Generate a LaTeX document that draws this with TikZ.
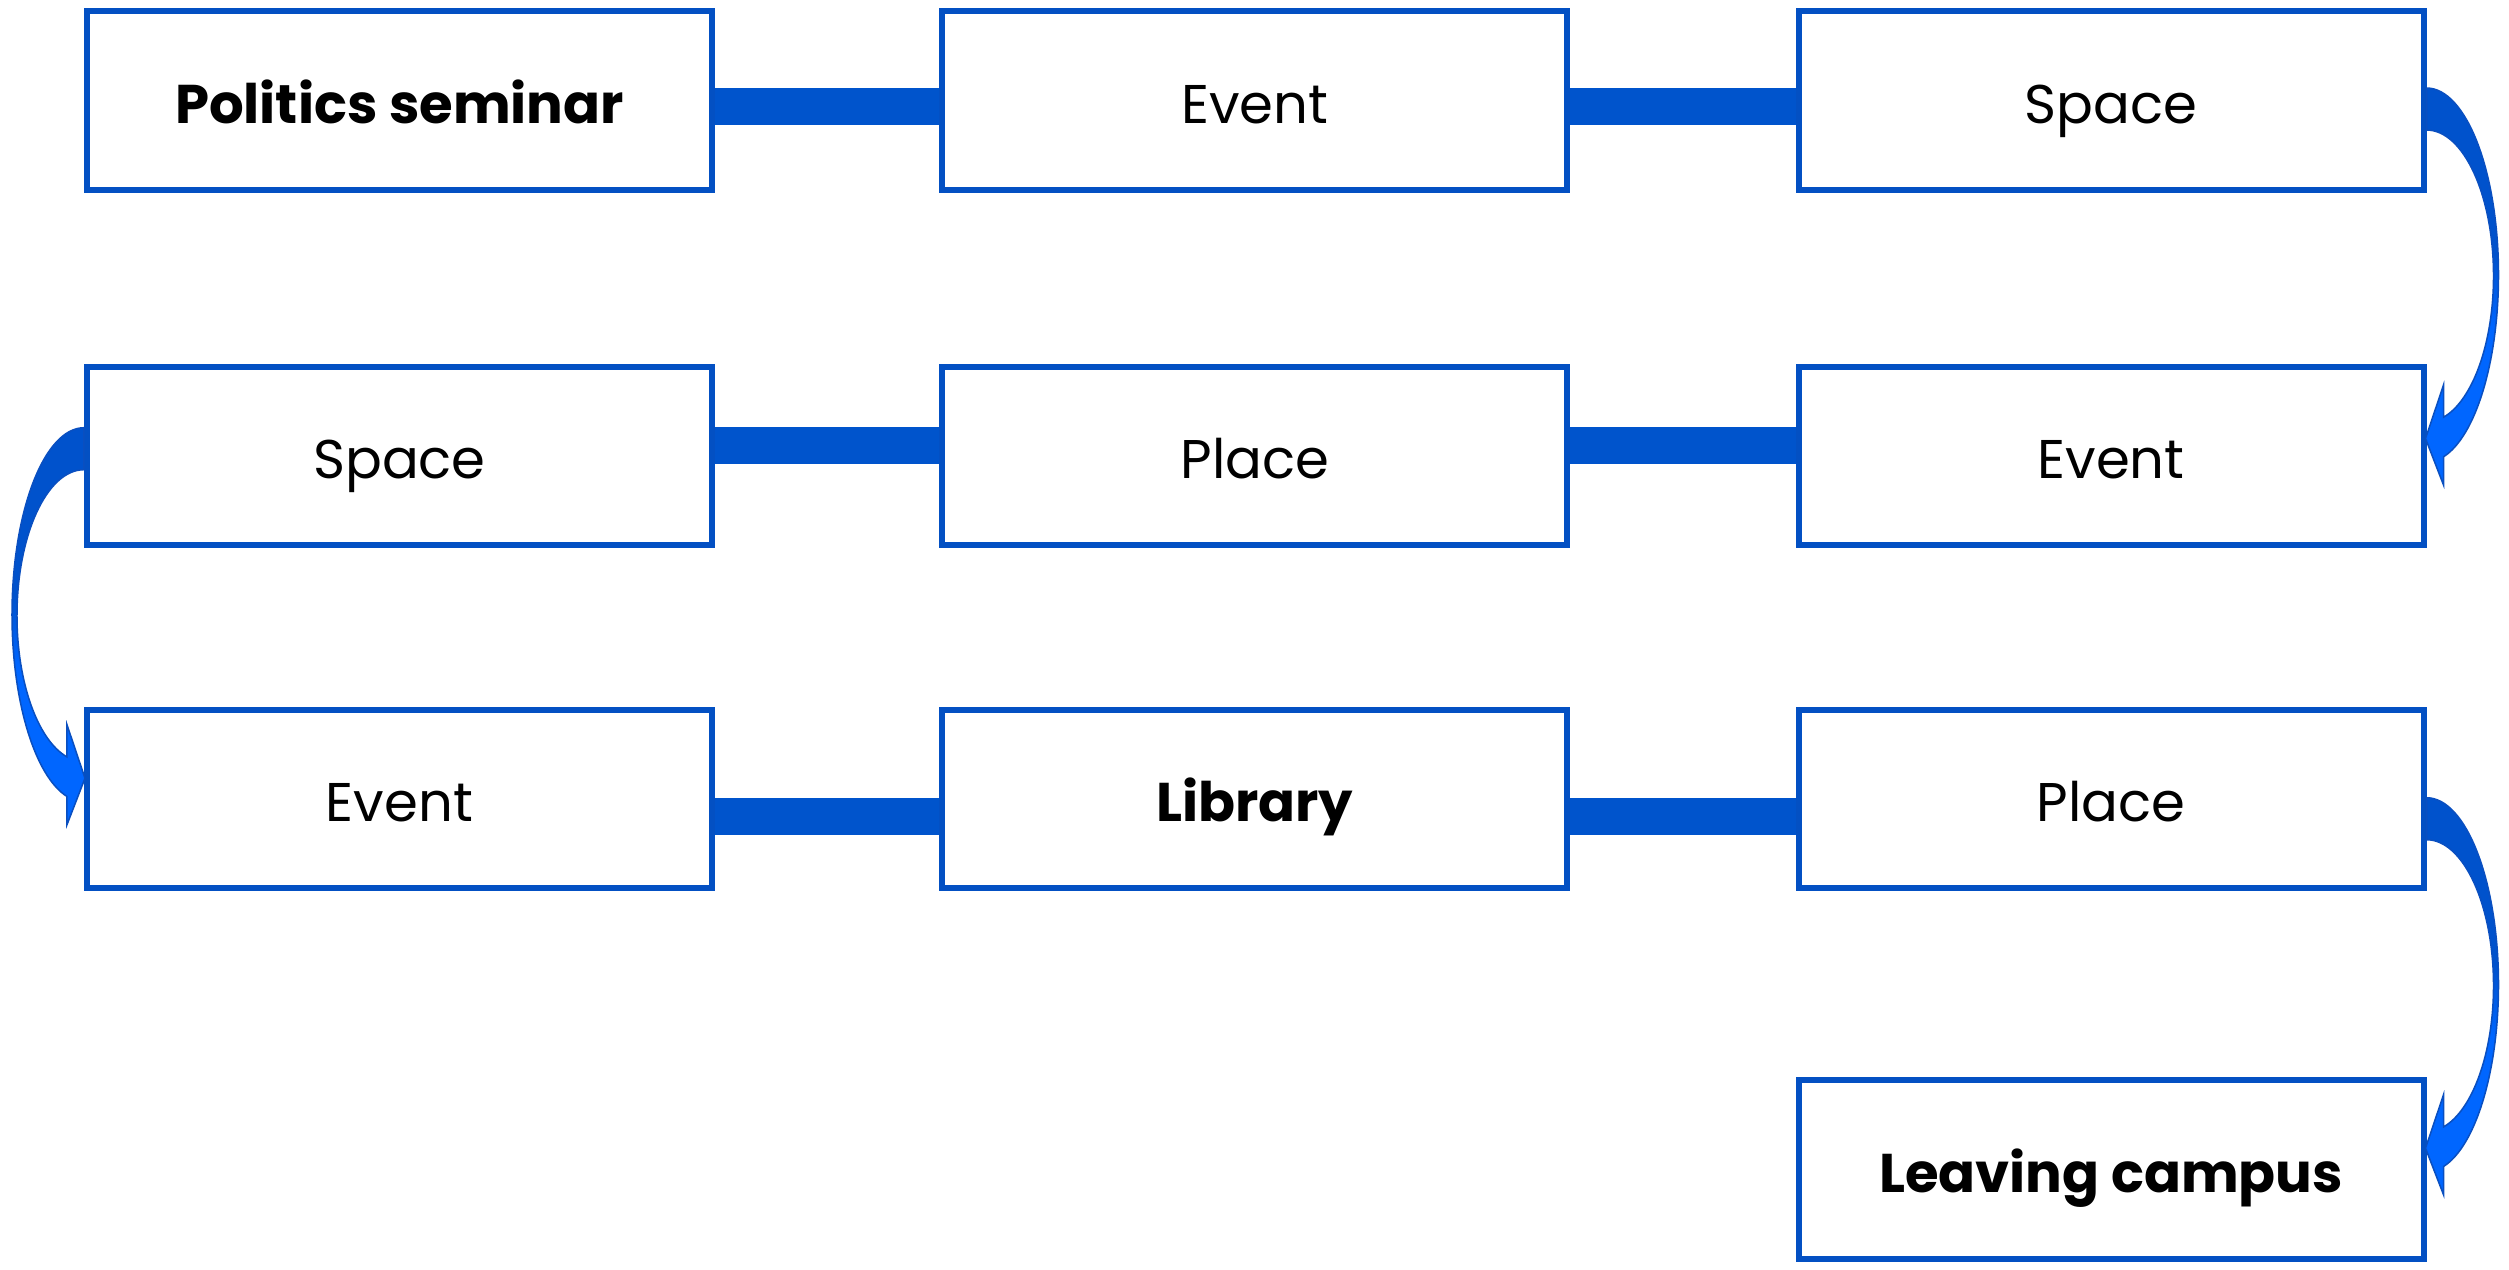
\documentclass[tikz,border=0pt]{standalone}
\usepackage{fontspec}
\setmainfont{Poppins}
\usetikzlibrary{calc}
\definecolor{boxblue}{HTML}{0350C3}
\definecolor{barblue}{HTML}{0054CC}
\definecolor{ardark}{HTML}{0052CC}
\definecolor{arlight}{HTML}{0066FF}
\definecolor{arline}{HTML}{0A4FC0}
\pgfdeclareverticalshading{arrowshade}{100bp}{color(0bp)=(arlight); color(25bp)=(arlight); color(45bp)=(arlight); color(54bp)=(ardark); color(75bp)=(ardark); color(100bp)=(ardark)}
\tikzset{
  box/.style={draw=boxblue, line width=2.4pt, fill=white, minimum width=250pt,
    minimum height=71.4pt, inner sep=0pt, text height=18.24pt, text depth=0pt,
    font=\fontsize{21.8}{26}\selectfont},
  boldbox/.style={box, font=\fontsize{21.8}{26}\selectfont\bfseries},
  bar/.style={fill=barblue},
  curvearrow/.style={shade, shading=arrowshade, draw=arline, line width=0.6pt},
  pics/uturn/.style={code={
    \path[curvearrow] (0,0) .. controls (39.7,0) and (72,83.8) .. (72,187)
      .. controls (72,273.2) and (49.2,348.4) .. (17,368.8)
      -- (17,397) -- (-1,350.5) -- (17,297) -- (17,329.2)
      .. controls (46.4,312.4) and (67,254.3) .. (67,188)
      .. controls (67,107.4) and (37,42) .. (0,42) -- cycle;
  }}
}
\begin{document}
\begin{tikzpicture}[x=0.4pt,y=-0.4pt]
\useasboundingbox (0,0) rectangle (2509,1269);
% row 1
\node[boldbox] (ps)  at (399.5,100.5)  {Politics seminar};
\node[box]     (ev1) at (1254.8,100.5) {Event};
\node[box]     (sp1) at (2111,100.5)   {Space};
% row 2
\node[box]     (sp2) at (399.5,455.8)  {Space};
\node[box]     (pl2) at (1254.8,455.8) {Place};
\node[box]     (ev2) at (2111,455.8)   {Event};
% row 3
\node[box]     (ev3) at (399.5,798.8)  {Event};
\node[boldbox] (lib) at (1254.8,798.8) {Library};
\node[box]     (pl3) at (2111,798.8)   {Place};
% row 4
\node[boldbox] (lc)  at (2111,1169.5)  {Leaving campus};
% straight connectors
\path[bar] ($(ps.east)+(0,-12.8)$) rectangle ($(ev1.west)+(0,24.5)$);
\path[bar] ($(ev1.east)+(0,-12.8)$) rectangle ($(sp1.west)+(0,24.5)$);
\path[bar] ($(sp2.east)+(0,-29.1)$) rectangle ($(pl2.west)+(0,7.9)$);
\path[bar] ($(pl2.east)+(0,-29.1)$) rectangle ($(ev2.west)+(0,7.9)$);
\path[bar] ($(ev3.east)+(0,-1.1)$) rectangle ($(lib.west)+(0,36.2)$);
\path[bar] ($(lib.east)+(0,-1.1)$) rectangle ($(pl3.west)+(0,36.2)$);
% curved connectors
\pic at ($(sp1.east)+(0,-12.5)$) {uturn};
\pic[xscale=-1] at ($(sp2.west)+(0,-28.1)$) {uturn};
\pic at ($(pl3.east)+(0,-1.1)$) {uturn};
\end{tikzpicture}
\end{document}
